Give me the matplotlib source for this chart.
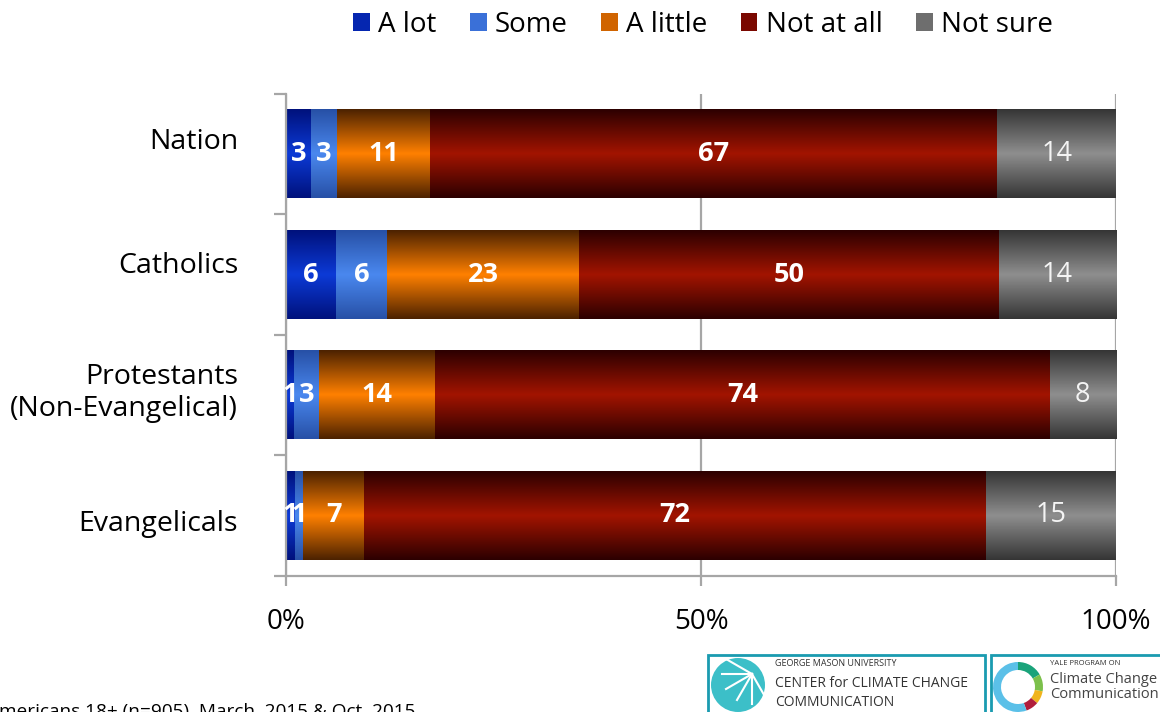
import numpy as np
import matplotlib
matplotlib.use('Agg')
import matplotlib.pyplot as plt
import matplotlib.transforms as mtransforms
from matplotlib.colors import LinearSegmentedColormap
from matplotlib.patches import Patch, Rectangle, Wedge, Circle

plt.rcParams['font.family'] = ['Open Sans', 'DejaVu Sans']

categories = ['Nation', 'Catholics', 'Protestants\n(Non-Evangelical)', 'Evangelicals']
series = ['A lot', 'Some', 'A little', 'Not at all', 'Not sure']
a_lot = [3, 6, 1, 1]
some = [3, 6, 3, 1]
a_little = [11, 23, 14, 7]
not_at_all = [67, 50, 74, 72]
not_sure = [14, 14, 8, 15]
tick_labels = ['0%', '50%', '100%']

# edge color / middle color of the shaded bars
edge_cols = ['#00117c', '#2750a6', '#4c2200', '#2c0000', '#353535']
mid_cols = ['#0c3ad6', '#4a88ef', '#ff8000', '#a21400', '#8e8e8e']
legend_cols = ['#0526b0', '#3a70d8', '#d06400', '#7a0800', '#6e6e6e']

data = np.array([a_lot, some, a_little, not_at_all, not_sure], dtype=float)
totals = data.sum(axis=0)

fig = plt.figure(figsize=(11.6, 7.12), dpi=100)
ax = fig.add_axes([0.2466, 0.1915, 0.7155, 0.6765])

bar_h = 0.733
grad = np.abs(np.linspace(-1, 1, 200))[:, None]
grad = 1 - grad

for j in range(len(series)):
    cmap = LinearSegmentedColormap.from_list('g%d' % j, [edge_cols[j], mid_cols[j]])
    for i in range(len(categories)):
        left = data[:j, i].sum() / totals[i]
        w = data[j, i] / totals[i]
        ax.imshow(grad, cmap=cmap, vmin=0, vmax=1, aspect='auto',
                  extent=(left, left + w, i + bar_h / 2, i - bar_h / 2),
                  interpolation='bilinear', zorder=2)
        if j == 4:
            ax.text(left + w / 2, i, '%d' % data[j, i], ha='center', va='center',
                    color='#f4f4f4', fontsize=19.5, zorder=3)
        else:
            ax.text(left + w / 2, i, '%d' % data[j, i], ha='center', va='center',
                    color='white', fontsize=19.5, fontweight='bold', zorder=3)

ax.set_xlim(0, 1)
ax.set_ylim(len(categories) - 0.5, -0.5)

ax.set_xticks([0, 0.5, 1])
ax.set_xticklabels(tick_labels, fontsize=20)
ax.set_yticks(range(len(categories)))
ax.set_yticklabels(categories, fontsize=20.5)
ax.set_yticks(np.arange(-0.5, len(categories), 1), minor=True)
ax.tick_params(axis='y', which='major', length=0, pad=46)
ax.tick_params(axis='y', which='minor', length=9, width=1.6, color='#a6a6a6')
ax.tick_params(axis='x', length=7, width=1.6, color='#a6a6a6', pad=16)

# category labels sit a bit off-center in the original
shifts = [0.16, 0.12, 0.08, -0.05]
for lab, s in zip(ax.get_yticklabels(), shifts):
    lab.set_transform(lab.get_transform() + mtransforms.ScaledTranslation(0.16, s, fig.dpi_scale_trans))

ax.xaxis.grid(True, color='#a6a6a6', linewidth=1.6, zorder=0)
ax.set_axisbelow(True)
for s in ['top', 'right']:
    ax.spines[s].set_visible(False)
for s in ['left', 'bottom']:
    ax.spines[s].set_color('#a6a6a6')
    ax.spines[s].set_linewidth(1.6)

handles = [Patch(facecolor=c, edgecolor='none') for c in legend_cols]
fig.legend(handles, series, loc='upper center', bbox_to_anchor=(0.606, 1.02), ncol=5,
           frameon=False, fontsize=20, handlelength=0.6, handleheight=0.6,
           handletextpad=0.3, columnspacing=1.2)

fig.text(-0.011, 0.0, 'Americans 18+ (n=905), March, 2015 & Oct. 2015',
         fontsize=13.7, ha='left', va='center', color='black')

# logos
fig.patches.append(Rectangle((708 / 1160, -0.02), 277 / 1160, 0.1, transform=fig.transFigure,
                             fill=False, edgecolor='#1a9bb0', linewidth=2))
fig.patches.append(Rectangle((991 / 1160, -0.02), 200 / 1160, 0.1, transform=fig.transFigure,
                             fill=False, edgecolor='#1a9bb0', linewidth=2))
fig.patches.append(Circle((7.38, 0.27), 0.27, transform=fig.dpi_scale_trans,
                          facecolor='#3cbfc8', edgecolor='none'))
for a in np.linspace(150, 300, 6):
    r = np.radians(a)
    fig.add_artist(plt.Line2D([7.52, 7.52 + 0.3 * np.cos(r)], [0.38, 0.38 + 0.3 * np.sin(r)],
                              transform=fig.dpi_scale_trans, color='white', linewidth=1.5))
fig.text(775 / 1160, 0.068, 'GEORGE MASON UNIVERSITY', fontsize=6.5, color='#333333', va='center')
fig.text(775 / 1160, 0.04, 'CENTER for CLIMATE CHANGE', fontsize=10, color='#333333', va='center')
fig.text(775 / 1160, 0.014, 'COMMUNICATION', fontsize=10, color='#333333', va='center')
ring = ['#1aa37a', '#7cc04b', '#f0b41c', '#b01e3c', '#5bc0e8']
angles = [(30, 90), (-10, 30), (-40, -10), (-70, -40), (90, 290)]
for c, (a1, a2) in zip(ring, angles):
    fig.patches.append(Wedge((10.18, 0.25), 0.25, a1, a2, width=0.08,
                             transform=fig.dpi_scale_trans, facecolor=c, edgecolor='none'))
fig.text(1050 / 1160, 0.068, 'YALE PROGRAM ON', fontsize=5.5, color='#333333', va='center')
fig.text(1050 / 1160, 0.046, 'Climate Change', fontsize=10.5, color='#444444', va='center')
fig.text(1050 / 1160, 0.024, 'Communication', fontsize=10.5, color='#444444', va='center')

fig.savefig('out.png', dpi=100)
